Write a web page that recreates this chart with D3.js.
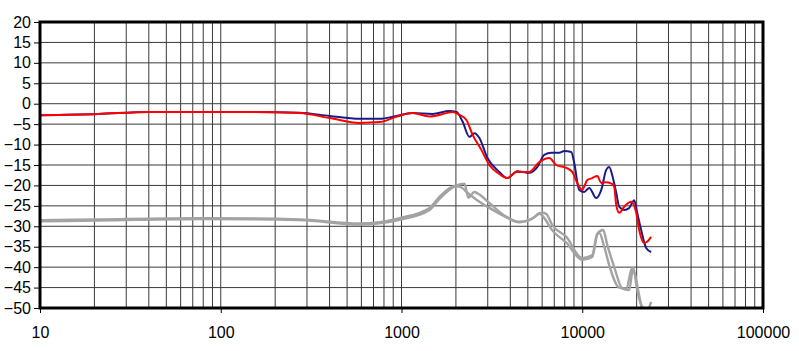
<!DOCTYPE html>
<html>
<head>
<meta charset="utf-8">
<script src="https://cdn.jsdelivr.net/npm/d3@7"></script>
<style>
  body { margin: 0; background: #fff; }
  svg { display: block; font-family: "Liberation Sans", Arial, sans-serif; }
</style>
</head>
<body>
<div id="chart"></div>
<script>
// frequency response data (Hz, dB)
var redFreq = [10, 21, 40, 80, 145, 273, 400, 586, 756, 937, 1150, 1430, 1773, 1915, 2090, 2287, 2467, 2766, 3062, 3477, 3853, 4318, 5093, 5783, 6570, 7178, 8162, 8808, 9380, 9990, 10660, 11360, 12110, 12740, 13570, 14650, 15030, 15420, 16010, 17070, 18650, 19880, 20650, 22010, 22860, 24050];
var redDb   = [-2.8, -2.5, -2.0, -2.0, -2.0, -2.3, -3.5, -4.7, -4.5, -3.2, -2.3, -3.1, -2.3, -2.0, -2.7, -4.0, -7.5, -11.3, -15.0, -17.2, -18.2, -16.7, -16.7, -14.3, -13.3, -15.0, -15.7, -16.7, -19.4, -21.1, -18.7, -18.2, -17.7, -19.4, -19.2, -19.6, -20.4, -24.8, -26.7, -25.2, -24.0, -26.7, -30.9, -34.1, -33.8, -32.6];

var blueFreq = [10, 21, 40, 145, 273, 400, 586, 756, 937, 1150, 1483, 1842, 2014, 2174, 2376, 2531, 2697, 2988, 3477, 3853, 4374, 5093, 5640, 6165, 6741, 7460, 7953, 8697, 9030, 9620, 10250, 10930, 11950, 12740, 13570, 14100, 14650, 15420, 16010, 17070, 18190, 19380, 20130, 21180, 22570, 24050];
var blueDb   = [-2.8, -2.5, -2.0, -2.0, -2.2, -3.0, -3.7, -3.7, -3.0, -2.3, -2.5, -1.8, -2.0, -4.3, -8.1, -7.2, -8.4, -13.3, -16.7, -18.2, -16.5, -16.9, -15.5, -12.5, -12.0, -12.0, -11.6, -11.8, -14.5, -21.1, -21.6, -20.6, -23.1, -21.1, -16.2, -15.5, -17.5, -21.8, -25.2, -26.0, -25.5, -23.6, -26.7, -30.9, -35.3, -36.3];

var gray1Freq = [10, 21, 77, 273, 586, 756, 975, 1430, 1622, 1964, 2091, 2376, 2697, 3062, 3700, 4484, 5432, 5783, 6165, 6826, 8162, 9990, 11360, 12110, 12410, 13230, 14100, 16010, 17510, 18890, 19630, 20650, 21450];
var gray1Db   = [-28.5, -28.3, -28.0, -28.3, -29.3, -29.0, -28.0, -25.5, -22.8, -20.2, -20.3, -22.2, -24.0, -25.5, -27.5, -29.0, -27.8, -26.8, -28.0, -31.0, -34.0, -38.2, -37.5, -32.0, -31.6, -35.0, -39.5, -45.0, -45.2, -40.2, -42.0, -47.0, -50.5];

var gray2Freq = [10, 21, 77, 273, 586, 756, 975, 1430, 1622, 2014, 2230, 2345, 2531, 2697, 3062, 3803, 4484, 5093, 6010, 6327, 6826, 8162, 9990, 11360, 12110, 13060, 13740, 15030, 16640, 18190, 19130, 20130, 21450, 22570, 24050];
var gray2Db   = [-28.8, -28.6, -28.2, -28.5, -29.6, -29.3, -28.4, -26.0, -23.3, -20.0, -19.6, -23.0, -21.6, -22.2, -24.3, -27.7, -28.9, -28.5, -26.7, -27.0, -29.7, -32.6, -37.8, -37.0, -31.8, -30.9, -34.5, -40.0, -45.2, -45.6, -40.0, -45.6, -49.8, -51.0, -48.5];

var xTicks = [10, 100, 1000, 10000, 100000];
var yTicks = [20, 15, 10, 5, 0, -5, -10, -15, -20, -25, -30, -35, -40, -45, -50];

// set the dimensions and margins of the graph
var margin = {top: 22, right: 36, bottom: 43, left: 40},
    width = 799 - margin.left - margin.right,
    height = 351 - margin.top - margin.bottom;

var svg = d3.select("#chart").append("svg")
    .attr("width", 799)
    .attr("height", 351)
  .append("g")
    .attr("transform", "translate(" + margin.left + "," + margin.top + ")");

var x = d3.scaleLog().domain([10, 100000]).range([0, width]);
var y = d3.scaleLinear().domain([-50, 20]).range([height, 0]);

// grid lines (every 1..9 per decade, every 5 dB)
var vGrid = [];
for (var k = 10; k < 100000; k *= 10) {
  for (var m = 2; m <= 9; m++) vGrid.push(k * m);
}
xTicks.forEach(function(d) { vGrid.push(d); });

svg.append("g").selectAll("line")
  .data(vGrid)
  .join("line")
    .attr("x1", d => x(d)).attr("x2", d => x(d))
    .attr("y1", 0).attr("y2", height)
    .attr("stroke", "#3a3a3a")
    .attr("stroke-width", 1);

svg.append("g").selectAll("line")
  .data(yTicks)
  .join("line")
    .attr("x1", 0).attr("x2", width)
    .attr("y1", d => y(d)).attr("y2", d => y(d))
    .attr("stroke", "#3a3a3a")
    .attr("stroke-width", 1);

svg.append("defs").append("clipPath").attr("id", "clip")
  .append("rect").attr("width", width).attr("height", height);

var line = d3.line()
  .x(d => x(d[0]))
  .y(d => y(d[1]))
  .curve(d3.curveMonotoneX);

function pairs(f, v) { return f.map(function(d, i) { return [d, v[i]]; }); }

var plot = svg.append("g").attr("clip-path", "url(#clip)");

plot.append("path").datum(pairs(gray1Freq, gray1Db))
  .attr("d", line).attr("fill", "none").attr("stroke", "#a3a3a3").attr("stroke-width", 2.4);
plot.append("path").datum(pairs(gray2Freq, gray2Db))
  .attr("d", line).attr("fill", "none").attr("stroke", "#a3a3a3").attr("stroke-width", 2.4);
plot.append("path").datum(pairs(blueFreq, blueDb))
  .attr("d", line).attr("fill", "none").attr("stroke", "#1a1a8a").attr("stroke-width", 2);
plot.append("path").datum(pairs(redFreq, redDb))
  .attr("d", line).attr("fill", "none").attr("stroke", "#ff0000").attr("stroke-width", 2);

// axes
var yAxis = svg.append("g")
  .call(d3.axisLeft(y).tickValues(yTicks).tickSize(6).tickPadding(3));
var xAxis = svg.append("g")
  .attr("transform", "translate(0," + height + ")")
  .call(d3.axisBottom(x).tickValues(xTicks).tickFormat(d3.format("d")).tickSize(5).tickPadding(14));

[yAxis, xAxis].forEach(function(a) {
  a.select(".domain").remove();
  a.selectAll("text").attr("font-size", 16).attr("fill", "#000")
    .attr("font-family", "'Liberation Sans', Arial, sans-serif");
  a.selectAll(".tick line").attr("stroke", "#000");
});

// thick frame
svg.append("rect")
  .attr("x", 0).attr("y", 0)
  .attr("width", width).attr("height", height)
  .attr("fill", "none")
  .attr("stroke", "#000")
  .attr("stroke-width", 3);
</script>
</body>
</html>
